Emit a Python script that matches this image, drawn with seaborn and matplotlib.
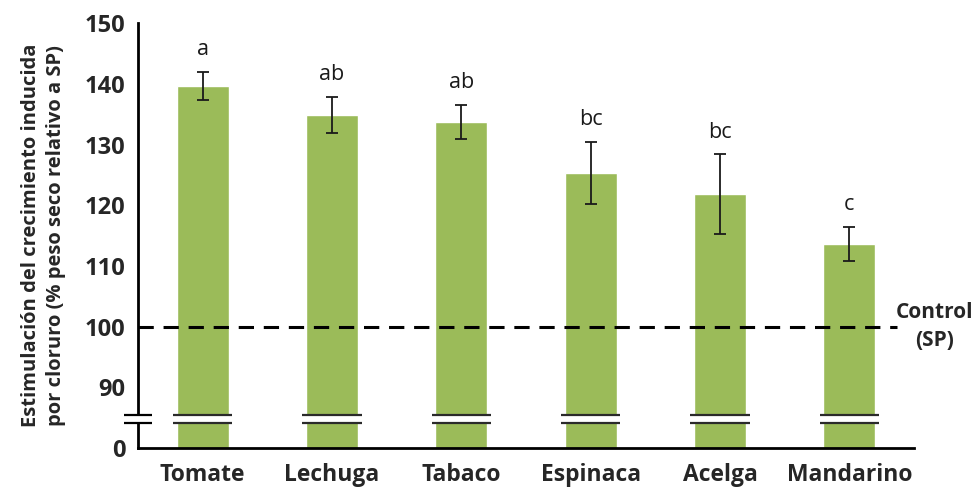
import matplotlib
matplotlib.use("Agg")
import matplotlib.pyplot as plt
import pandas as pd
import seaborn as sns

cultivos = ["Tomate", "Lechuga", "Tabaco", "Espinaca", "Acelga", "Mandarino"]
estimulacion = [139.7, 134.9, 133.8, 125.4, 121.8, 113.7]
error = [2.3, 3.0, 2.8, 5.1, 6.6, 2.8]
letras = ["a", "ab", "ab", "bc", "bc", "c"]
control = 100

# eje y cortado: la posicion 80 se rotula como 0
y_ticks = [80, 90, 100, 110, 120, 130, 140, 150]
y_labels = ["0", "90", "100", "110", "120", "130", "140", "150"]
corte = (84.2, 85.5)

df = pd.DataFrame({"cultivo": cultivos, "valor": estimulacion})

sns.set_style("white")
plt.rcParams["font.family"] = ["Open Sans", "DejaVu Sans"]

fig = plt.figure(figsize=(9.76, 4.91), dpi=100)
ax = fig.add_axes([0.1414, 0.0876, 0.7951, 0.8649])

sns.barplot(data=df, x="cultivo", y="valor", color="#9BBB59", width=0.4,
            errorbar=None, saturation=1, ax=ax, zorder=2)

xs = [p.get_x() + p.get_width() / 2 for p in ax.patches]
ax.errorbar(xs, estimulacion, yerr=error, fmt="none", ecolor="#1a1a1a",
            elinewidth=1.3, capsize=4, capthick=1.3, zorder=4)

for x, v, e, l in zip(xs, estimulacion, error, letras):
    ax.annotate(l, (x, v + e), xytext=(0, 12), textcoords="offset points",
                ha="center", va="baseline", fontsize=15.5, color="#1a1a1a")

ax.axhline(control, xmin=0, xmax=0.978, color="black", lw=2.2,
           ls=(0, (5, 3.2)), zorder=3)
ax.text(5.66, control, "Control\n(SP)", ha="center", va="center",
        fontsize=15, fontweight="bold", linespacing=1.4)

# marcas de corte en barras y eje
for p in ax.patches:
    x0, x1 = p.get_x() - 0.03, p.get_x() + p.get_width() + 0.03
    ax.fill_between([x0, x1], corte[0], corte[1], color="white", lw=0, zorder=5)
    ax.hlines(corte, x0, x1, color="#2a2a2a", lw=1.6, zorder=6)
ax.fill_between([-0.61, -0.39], corte[0], corte[1], color="white", lw=0,
                zorder=5, clip_on=False)
ax.hlines(corte, -0.61, -0.39, color="black", lw=1.6, zorder=6, clip_on=False)

ax.set_xlim(-0.5, 5.5)
ax.set_ylim(80, 150)
ax.set_yticks(y_ticks)
ax.set_yticklabels(y_labels)
ax.set_xticks(range(len(cultivos)))
ax.set_xticklabels(cultivos)
ax.set_xticks([i - 0.5 for i in range(len(cultivos) + 1)], minor=True)
ax.tick_params(axis="x", which="major", length=0, pad=11, labelsize=16.5)
ax.tick_params(axis="x", which="minor", length=5, width=2, direction="out",
               color="black")
ax.tick_params(axis="y", length=5, width=2, direction="out", color="black",
               labelsize=17, pad=4)
for t in ax.get_xticklabels() + ax.get_yticklabels():
    t.set_fontweight("bold")

for s in ["top", "right"]:
    ax.spines[s].set_visible(False)
for s in ["left", "bottom"]:
    ax.spines[s].set_color("black")
    ax.spines[s].set_linewidth(2)

ax.set_xlabel("")
ax.set_ylabel("Estimulación del crecimiento inducida\npor cloruro (% peso seco relativo a SP)",
              fontsize=14.5, fontweight="bold", linespacing=1.35)
ax.yaxis.set_label_coords(-0.093, 0.5)

fig.savefig("out.png", dpi=100)
